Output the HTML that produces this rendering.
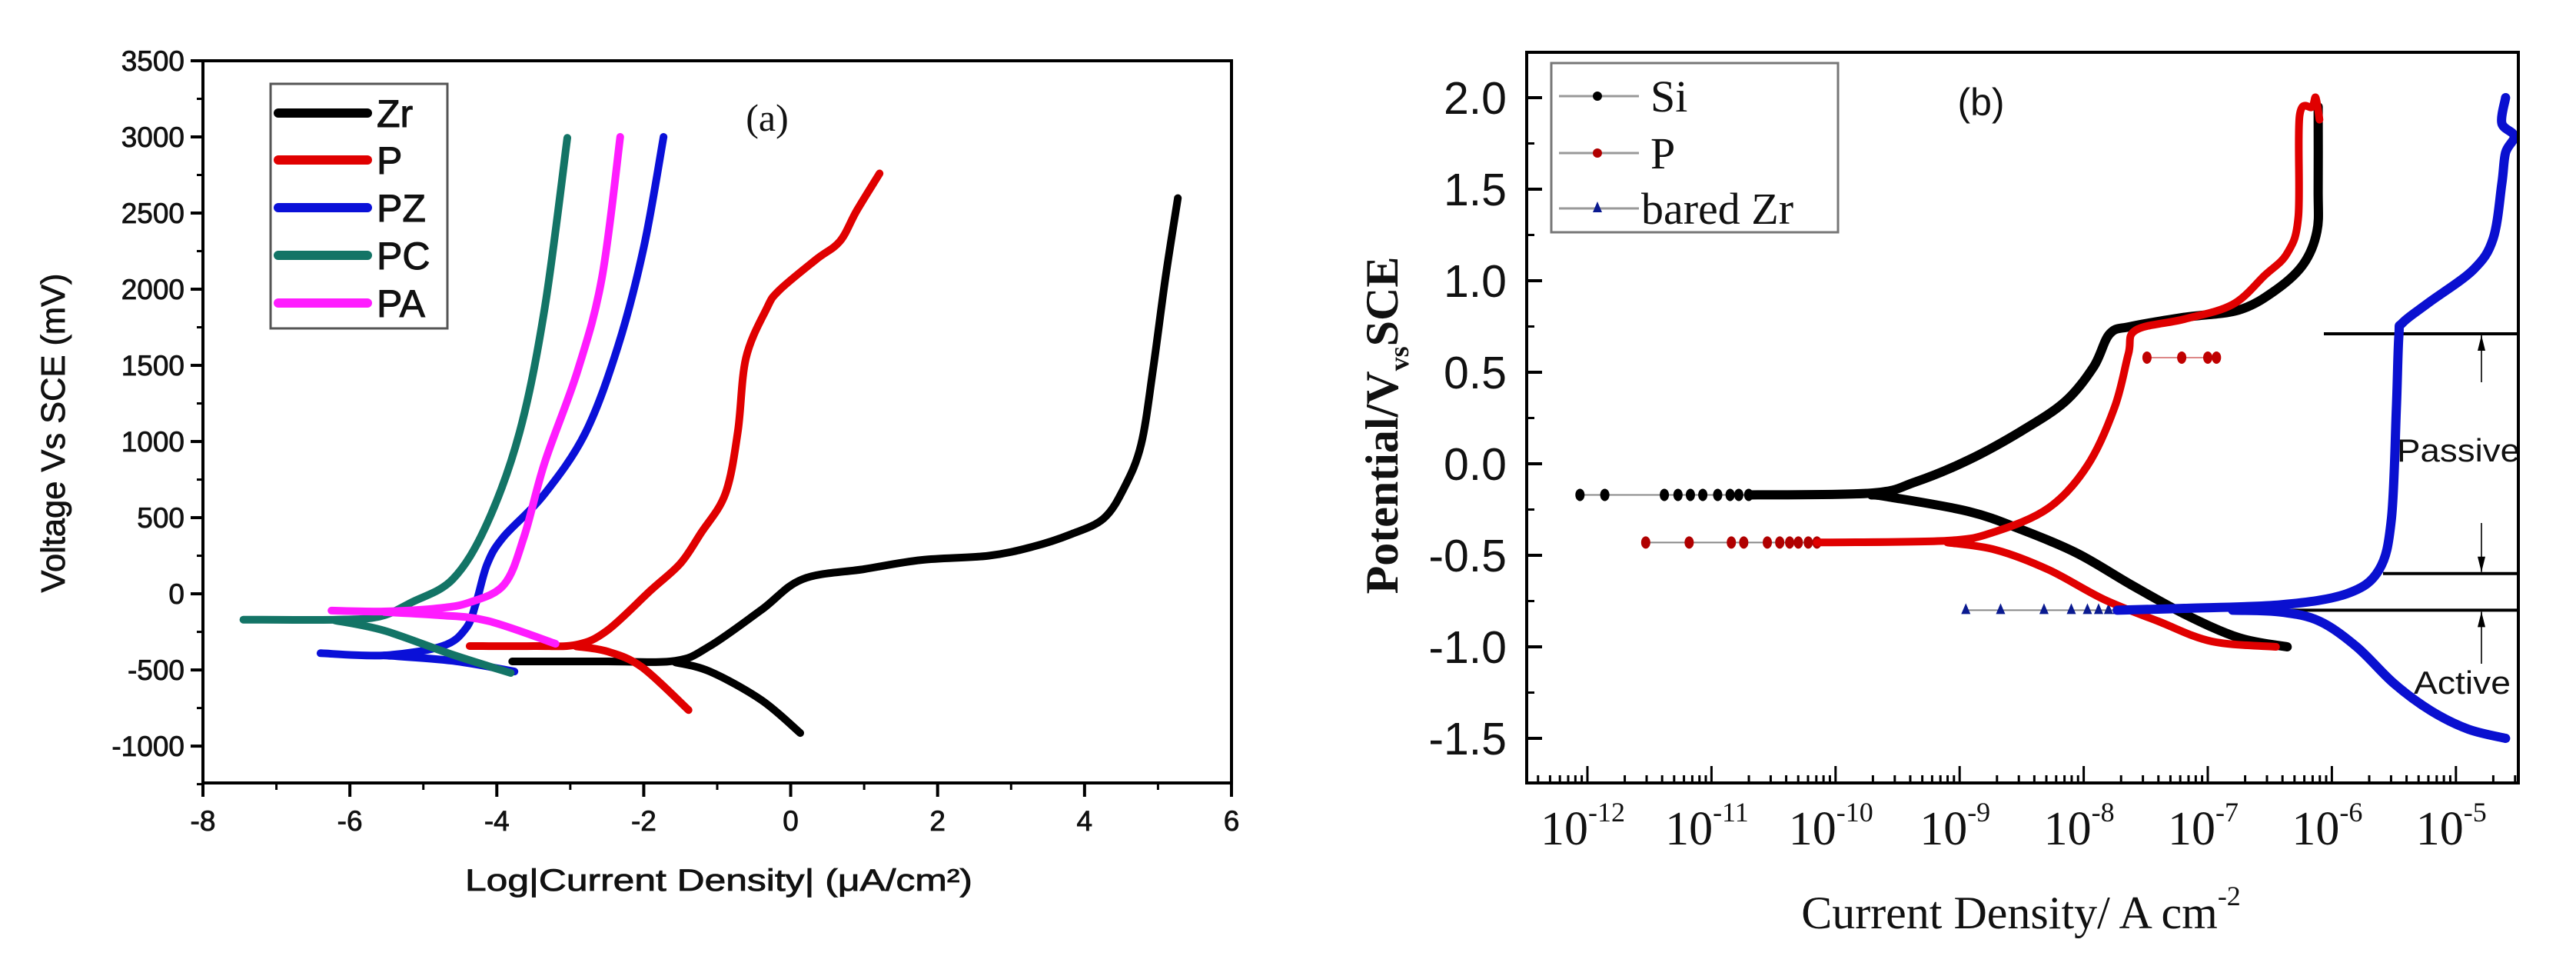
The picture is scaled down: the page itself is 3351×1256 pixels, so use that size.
<!DOCTYPE html>
<html><head><meta charset="utf-8"><style>
html,body{margin:0;padding:0;background:#fff;}
svg{display:block;}
</style></head><body>
<svg id="fig" width="3351" height="1256" viewBox="0 0 3351 1256" xmlns="http://www.w3.org/2000/svg">
<rect width="3351" height="1256" fill="#fff"/>
<g id="chartA"></g>
<g id="chartB"></g>
</svg>
<script>
// ---------- Chart (a) data ----------
const aXTicks = [-8,-6,-4,-2,0,2,4,6];
const aYTicks = [3500,3000,2500,2000,1500,1000,500,0,-500,-1000];
const aSeriesNames = ["Zr","P","PZ","PC","PA"];
const aColors = ["#000000","#e00000","#0a10d8","#137466","#ff1cff"];
const zrAnodic = [[-3.79,-444],[-2.5,-444],[-1.57,-440],[-1.1,-343],[-0.4,-106],[0.16,96],[1.0,162],[1.78,222],[2.69,250],[3.3,310],[3.81,390],[4.26,495],[4.54,697],[4.77,980],[4.93,1465],[5.1,2072],[5.27,2598]];
const zrCathodic = [[-1.57,-450],[-1.1,-510],[-0.4,-697],[0.13,-914]];
const pAnodic = [[-4.37,-343],[-3.5,-343],[-2.92,-335],[-2.5,-242],[-1.9,25],[-1.5,200],[-1.22,400],[-0.89,656],[-0.72,1061],[-0.61,1546],[-0.33,1870],[-0.16,1991],[0.34,2193],[0.67,2315],[0.9,2517],[1.21,2760]];
const pCathodic = [[-2.92,-345],[-2.5,-378],[-2.03,-480],[-1.39,-763]];
const pzAnodic = [[-6.4,-390],[-5.53,-404],[-4.74,-343],[-4.42,-227],[-4.28,-56],[-4.13,197],[-3.91,373],[-3.35,656],[-2.79,1061],[-2.35,1627],[-2.0,2274],[-1.73,3000]];
const pzCathodic = [[-5.53,-404],[-4.6,-440],[-3.76,-510]];
const pcAnodic = [[-7.45,-170],[-6.2,-170],[-5.6,-150],[-5.16,-56],[-4.6,96],[-4.14,454],[-3.69,1061],[-3.35,1870],[-3.04,2994]];
const pcCathodic = [[-6.2,-175],[-5.53,-242],[-4.6,-400],[-3.81,-520]];
const paAnodic = [[-6.25,-110],[-5.53,-116],[-4.8,-95],[-4.37,-56],[-3.9,61],[-3.63,373],[-3.35,859],[-2.9,1465],[-2.57,2072],[-2.32,3000]];
const paCathodic = [[-5.53,-120],[-4.8,-140],[-4.13,-177],[-3.2,-328]];

// ---------- Chart (b) data ----------
const bXTickExps = [-12,-11,-10,-9,-8,-7,-6,-5];
const bYTicks = [2.0,1.5,1.0,0.5,0.0,-0.5,-1.0,-1.5];
const bYTickLabels = ["2.0","1.5","1.0","0.5","0.0","-0.5","-1.0","-1.5"];
const bSeriesNames = ["Si","P","bared Zr"];
const bColors = ["#000000","#e00000","#0a10d0"];
const siMarkers = [[-12.06,-0.17],[-11.86,-0.17],[-11.38,-0.17],[-11.27,-0.17],[-11.17,-0.17],[-11.07,-0.17],[-10.95,-0.17],[-10.85,-0.17],[-10.78,-0.17],[-10.7,-0.17]];
const siAnodic = [[-10.7,-0.17],[-9.71,-0.16],[-9.36,-0.1],[-8.93,0.02],[-8.5,0.18],[-8.15,0.34],[-7.92,0.53],[-7.79,0.71],[-7.62,0.75],[-7.19,0.8],[-6.75,0.84],[-6.45,0.95],[-6.23,1.09],[-6.12,1.27],[-6.11,1.5],[-6.11,1.95]];
const siCathodic = [[-9.71,-0.17],[-9.58,-0.18],[-8.93,-0.26],[-8.5,-0.36],[-8.05,-0.49],[-7.62,-0.66],[-7.19,-0.82],[-6.75,-0.95],[-6.36,-1.0]];
const pMarkers = [[-11.53,-0.43],[-11.18,-0.43],[-10.84,-0.43],[-10.74,-0.43],[-10.55,-0.43],[-10.45,-0.43],[-10.37,-0.43],[-10.3,-0.43],[-10.22,-0.43],[-10.15,-0.43]];
const pbAnodic = [[-10.15,-0.43],[-9.1,-0.42],[-8.71,-0.37],[-8.28,-0.24],[-7.97,-0.01],[-7.75,0.31],[-7.64,0.6],[-7.58,0.73],[-7.19,0.79],[-6.8,0.87],[-6.54,1.03],[-6.36,1.15],[-6.27,1.35],[-6.26,1.9],[-6.16,1.95],[-6.13,2.0],[-6.1,1.88]];
const pbCathodic = [[-9.1,-0.43],[-8.71,-0.47],[-8.28,-0.58],[-7.84,-0.74],[-7.4,-0.86],[-6.97,-0.97],[-6.45,-1.0]];
const pFloat = [[-7.49,0.58],[-7.21,0.58],[-7.0,0.58],[-6.93,0.58]];
const zrMarkers = [[-8.95,-0.8],[-8.67,-0.8],[-8.32,-0.8],[-8.1,-0.8],[-7.97,-0.8],[-7.88,-0.8],[-7.8,-0.8],[-7.73,-0.8]];
const zrbAnodic = [[-7.73,-0.8],[-7.19,-0.79],[-6.41,-0.77],[-5.88,-0.71],[-5.62,-0.58],[-5.52,-0.3],[-5.48,0.3],[-5.46,0.7],[-5.43,0.77],[-5.22,0.88],[-4.86,1.06],[-4.7,1.23],[-4.63,1.53],[-4.6,1.7],[-4.53,1.79],[-4.63,1.86],[-4.6,2.0]];
const zrbCathodic = [[-6.8,-0.8],[-6.41,-0.81],[-6.1,-0.86],[-5.8,-1.0],[-5.5,-1.2],[-5.2,-1.35],[-4.9,-1.45],[-4.6,-1.5]];
const bLevels = [0.71,-0.6,-0.8];

const NS = "http://www.w3.org/2000/svg";
function mk(parent, tag, attrs, text){
  const e = document.createElementNS(NS, tag);
  for (const k in attrs) e.setAttribute(k, attrs[k]);
  if (text !== undefined) e.textContent = text;
  parent.appendChild(e);
  return e;
}
const aL=264, aR=1602, aT=79, aB=1018;
function ax(v){ return aL + (v + 8) * 95.57; }
function ay(v){ return aT + (3500 - v) * 0.19802; }
const bL=1986, bR=3276, bT=68, bB=1018;
function bx(lg){ return 2065 + (lg + 12) * 161.4; }
function by(v){ return 127 + (2.0 - v) * 238; }
function smooth(arr, fx, fy){
  const P = arr.map(p => [fx(p[0]), fy(p[1])]);
  let d = "M" + P[0][0].toFixed(1) + "," + P[0][1].toFixed(1);
  for (let i = 0; i < P.length - 1; i++) {
    const p0 = P[Math.max(0, i - 1)], p1 = P[i], p2 = P[i + 1], p3 = P[Math.min(P.length - 1, i + 2)];
    const c1x = p1[0] + (p2[0] - p0[0]) / 6, c1y = p1[1] + (p2[1] - p0[1]) / 6;
    const c2x = p2[0] - (p3[0] - p1[0]) / 6, c2y = p2[1] - (p3[1] - p1[1]) / 6;
    d += " C" + c1x.toFixed(1) + "," + c1y.toFixed(1) + " " + c2x.toFixed(1) + "," + c2y.toFixed(1) + " " + p2[0].toFixed(1) + "," + p2[1].toFixed(1);
  }
  return d;
}

// ===== Chart A =====
const A = document.getElementById("chartA");
const aSeries = [[zrAnodic,zrCathodic],[pAnodic,pCathodic],[pzAnodic,pzCathodic],[pcAnodic,pcCathodic],[paAnodic,paCathodic]];
aSeries.forEach((s, i) => {
  s.forEach((arr, j) => {
    const pl = mk(A, "path", {d: smooth(arr, ax, ay), fill: "none", stroke: aColors[i], "stroke-width": 10, "stroke-linejoin": "round", "stroke-linecap": "round"});
    
    
  });
});
const aFrame = mk(A, "rect", {x: aL, y: aT, width: aR - aL, height: aB - aT, fill: "none", stroke: "#000", "stroke-width": 4});


aYTicks.forEach(v => {
  const t = mk(A, "line", {x1: aL - 16, x2: aL, y1: ay(v), y2: ay(v), stroke: "#000", "stroke-width": 4});
  
  
  const m = mk(A, "line", {x1: aL - 8, x2: aL, y1: ay(v - 250), y2: ay(v - 250), stroke: "#000", "stroke-width": 3});
  
  
  const lb = mk(A, "text", {x: aL - 24, y: ay(v) + 13, "text-anchor": "end", "font-family": "Liberation Sans, sans-serif", "font-size": 37, fill: "#111", stroke: "#111", "stroke-width": 0.8}, String(v));
  
  
});
aXTicks.forEach(v => {
  const t = mk(A, "line", {x1: ax(v), x2: ax(v), y1: aB, y2: aB + 18, stroke: "#000", "stroke-width": 4});
  
  
  if (v < 6) {
    const m = mk(A, "line", {x1: ax(v + 1), x2: ax(v + 1), y1: aB, y2: aB + 9, stroke: "#000", "stroke-width": 3});
    
    
  }
  const lb = mk(A, "text", {x: ax(v), y: aB + 62, "text-anchor": "middle", "font-family": "Liberation Sans, sans-serif", "font-size": 37, fill: "#111", stroke: "#111", "stroke-width": 0.8}, String(v));
  
  
});
const aXT = mk(A, "text", {x: 935, y: 1158, "text-anchor": "middle", "font-family": "Liberation Sans, sans-serif", "font-size": 40, fill: "#111", stroke: "#111", "stroke-width": 0.8, textLength: 660, lengthAdjust: "spacingAndGlyphs"}, "Log|Current Density| (\u03BCA/cm\u00B2)");


const aYT = mk(A, "text", {x: 0, y: 0, transform: "translate(84,563) rotate(-90)", "text-anchor": "middle", "font-family": "Liberation Sans, sans-serif", "font-size": 44, fill: "#111", stroke: "#111", "stroke-width": 0.8, textLength: 415, lengthAdjust: "spacingAndGlyphs"}, "Voltage Vs SCE (mV)");


const aLab = mk(A, "text", {x: 998, y: 170, "text-anchor": "middle", "font-family": "Liberation Serif, serif", "font-size": 50, fill: "#111"}, "(a)");


const aLeg = mk(A, "rect", {x: 352, y: 109, width: 230, height: 318, fill: "#fff", stroke: "#555", "stroke-width": 3});


const aLegY = [147, 208, 270, 332, 394];
aSeriesNames.forEach((n, i) => {
  const l = mk(A, "line", {x1: 362, x2: 478, y1: aLegY[i], y2: aLegY[i], stroke: aColors[i], "stroke-width": 12, "stroke-linecap": "round"});
  
  
  const t = mk(A, "text", {x: 490, y: aLegY[i] + 18, "font-family": "Liberation Sans, sans-serif", "font-size": 50, fill: "#111", stroke: "#111", "stroke-width": 1}, n);
  
  
});

// ===== Chart B =====
const B = document.getElementById("chartB");
const lvlStart = [3023, 3100, 2960];
bLevels.forEach((v, i) => {
  const l = mk(B, "line", {x1: lvlStart[i], x2: bR, y1: by(v), y2: by(v), stroke: "#000", "stroke-width": 4});
  
  
});
function arrow(x, yTip, yTail, name){
  const g = mk(B, "g", {});
  
  
  mk(g, "line", {x1: x, x2: x, y1: yTip, y2: yTail, stroke: "#333", "stroke-width": 2});
  const d = yTail > yTip ? 1 : -1;
  mk(g, "polygon", {points: `${x},${yTip} ${x-5},${yTip + d*20} ${x+5},${yTip + d*20}`, fill: "#000"});
}
arrow(3228, by(bLevels[0]) + 2, 497, 'passive-arrow-top');
arrow(3228, by(bLevels[1]) - 2, 680, 'passive-arrow-bottom');
arrow(3228, by(bLevels[2]) + 2, 863, 'active-arrow');
const pas = mk(B, "text", {x: 3118, y: 600, "font-family": "Liberation Sans, sans-serif", "font-size": 42, fill: "#111", textLength: 160, lengthAdjust: "spacingAndGlyphs"}, "Passive");


const act = mk(B, "text", {x: 3140, y: 902, "font-family": "Liberation Sans, sans-serif", "font-size": 42, fill: "#111", textLength: 126, lengthAdjust: "spacingAndGlyphs"}, "Active");



const bSeries = [[siAnodic, siCathodic],[pbAnodic, pbCathodic],[zrbAnodic, zrbCathodic]];
const bMarkers = [siMarkers, pMarkers, zrMarkers];
const markerCol = ["#000", "#b00000", "#0a1a90"];
bMarkers.forEach((arr, i) => {
  const first = arr[0], last = arr[arr.length - 1];
  const ln = mk(B, "line", {x1: bx(first[0]), x2: bx(last[0]), y1: by(first[1]), y2: by(first[1]), stroke: "#888", "stroke-width": 2});
  
  
  arr.forEach(p => {
    let m;
    if (i === 2) m = mk(B, "polygon", {points: `${bx(p[0])},${by(p[1]) - 9} ${bx(p[0]) - 6},${by(p[1]) + 5} ${bx(p[0]) + 6},${by(p[1]) + 5}`, fill: markerCol[i]});
    else m = mk(B, "ellipse", {cx: bx(p[0]), cy: by(p[1]), rx: 6, ry: 8, fill: markerCol[i]});
    
    
  });
});
const pfl = mk(B, "line", {x1: bx(pFloat[0][0]), x2: bx(pFloat[pFloat.length-1][0]), y1: by(pFloat[0][1]), y2: by(pFloat[0][1]), stroke: "#d88", "stroke-width": 2});


pFloat.forEach(p => {
  const m = mk(B, "ellipse", {cx: bx(p[0]), cy: by(p[1]), rx: 6, ry: 8, fill: "#c00000"});
  
  
});
bSeries.forEach((s, i) => {
  s.forEach((arr, j) => {
    const pl = mk(B, "path", {d: smooth(arr, bx, by), fill: "none", stroke: bColors[i], "stroke-width": i === 1 ? 10 : 12, "stroke-linejoin": "round", "stroke-linecap": "round"});
    
    
  });
});
const bFrame = mk(B, "rect", {x: bL, y: bT, width: bR - bL, height: bB - bT, fill: "none", stroke: "#000", "stroke-width": 4});


bYTicks.forEach((v, i) => {
  const t = mk(B, "line", {x1: bL, x2: bL + 20, y1: by(v), y2: by(v), stroke: "#000", "stroke-width": 4});
  
  
  const m = mk(B, "line", {x1: bL, x2: bL + 10, y1: by(v + 0.25), y2: by(v + 0.25), stroke: "#000", "stroke-width": 3});
  
  
  const lb = mk(B, "text", {x: 1960, y: by(v) + 21, "text-anchor": "end", "font-family": "Liberation Sans, sans-serif", "font-size": 59, fill: "#111"}, bYTickLabels[i]);
  
  
});
for (let e = -13; e <= -5; e++) {
  for (let k = 1; k <= 9; k++) {
    const lg = e + Math.log10(k);
    const x = bx(lg);
    if (x < bL || x > bR) continue;
    const t = mk(B, "line", {x1: x, x2: x, y1: bB, y2: bB - (k === 1 ? 22 : 10), stroke: "#000", "stroke-width": 3});
    
    
  }
}
bXTickExps.forEach(e => {
  const lb = mk(B, "text", {x: bx(e) - 6, y: 1098, "text-anchor": "middle", "font-family": "Liberation Serif, serif", "font-size": 62, fill: "#111"});
  
  
  mk(lb, "tspan", {}, "10");
  mk(lb, "tspan", {dy: -30, "font-size": 36}, "-" + Math.abs(e));
});
const bXT = mk(B, "text", {x: 2629, y: 1207, "text-anchor": "middle", "font-family": "Liberation Serif, serif", "font-size": 60, fill: "#111"});


mk(bXT, "tspan", {}, "Current Density/ A cm");
mk(bXT, "tspan", {dy: -30, "font-size": 36}, "-2");
const bYT = mk(B, "text", {x: 0, y: 0, transform: "translate(1818,553) rotate(-90)", "text-anchor": "middle", "font-family": "Liberation Serif, serif", "font-size": 60, "font-weight": "bold", fill: "#111"});


mk(bYT, "tspan", {}, "Potential/V");
mk(bYT, "tspan", {dy: 14, "font-size": 36}, "vs");
mk(bYT, "tspan", {dy: -14}, "SCE");
const bLab = mk(B, "text", {x: 2577, y: 150, "text-anchor": "middle", "font-family": "Liberation Sans, sans-serif", "font-size": 50, fill: "#111"}, "(b)");


const bLeg = mk(B, "rect", {x: 2018, y: 82, width: 373, height: 220, fill: "#fff", stroke: "#777", "stroke-width": 3});


const bLegY = [125, 199, 271];
const bLegX = [2147, 2147, 2135];
bSeriesNames.forEach((n, i) => {
  const l = mk(B, "line", {x1: 2028, x2: 2132, y1: bLegY[i], y2: bLegY[i], stroke: "#999", "stroke-width": 3});
  
  
  let m;
  if (i === 2) m = mk(B, "polygon", {points: `2078,${bLegY[i]-9} 2072,${bLegY[i]+5} 2084,${bLegY[i]+5}`, fill: markerCol[i]});
  else m = mk(B, "circle", {cx: 2078, cy: bLegY[i], r: 6, fill: markerCol[i]});
  
  
  const t = mk(B, "text", {x: bLegX[i], y: bLegY[i] + 20, "font-family": "Liberation Serif, serif", "font-size": 58, fill: "#111"}, n);
  
  
});
</script>
</body></html>
